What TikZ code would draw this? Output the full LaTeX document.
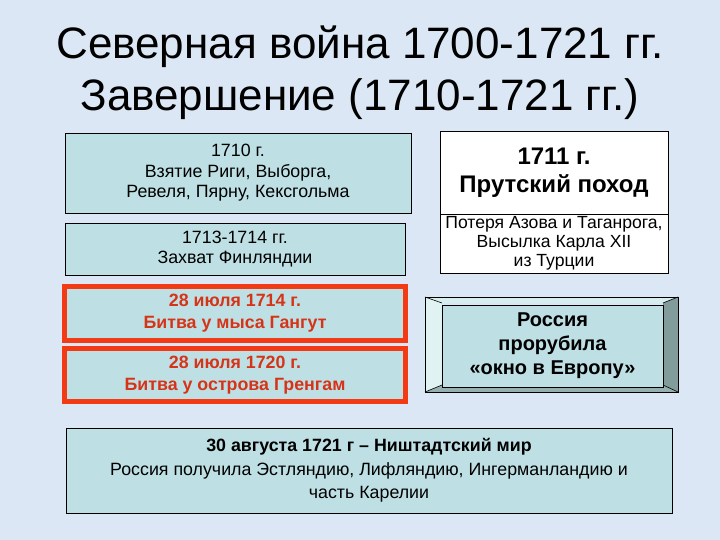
\documentclass[tikz,border=0pt]{standalone}
\usepackage{fontspec}
\setmainfont{Liberation Sans}
\usetikzlibrary{positioning}
\definecolor{slidebg}{RGB}{219,231,244}
\definecolor{boxfill}{RGB}{190,224,228}
\definecolor{battlered}{RGB}{242,58,20}
\definecolor{battletext}{RGB}{214,52,24}
\definecolor{bevellight}{RGB}{214,238,238}
\definecolor{bevelside}{RGB}{224,242,242}
\definecolor{beveldark}{RGB}{150,175,175}
\definecolor{beveldarker}{RGB}{130,155,155}

\begin{document}
\begin{tikzpicture}[x=1pt,y=-1pt,
    event box/.style={draw, fill=boxfill, line width=0.8pt, inner sep=0pt, align=center,
      font=\fontsize{17.8}{20.5}\selectfont},
    battle box/.style={draw=battlered, fill=boxfill, line width=5pt, inner sep=0pt, align=center,
      text=battletext, font=\bfseries\fontsize{17.8}{22}\selectfont},
    prut box/.style={draw, fill=white, line width=0.8pt, inner sep=0pt, align=center},
    title line/.style={anchor=base, font=\fontsize{44}{48}\selectfont}]
    % background of the slide
    \fill[slidebg] (0,0) rectangle (720,540);
    \useasboundingbox (0,0) rectangle (720,540);

    % title
    \node[title line] (title1) at (360,59) {Северная война 1700-1721 гг.};
    \node[title line] (title2) at (360,111) {Завершение (1710-1721 гг.)};

    % left column
    \node[event box, minimum width=346, minimum height=80] (riga) at (238,173)
        {1710 г.\\Взятие Риги, Выборга,\\Ревеля, Пярну, Кексгольма};
    \node[event box, minimum width=340, minimum height=52] (finland) at (235,249)
        {1713-1714 гг.\\Захват Финляндии};
    \node[battle box, minimum width=341, minimum height=54] (gangut) at (235,313.5)
        {28 июля 1714 г.\\Битва у мыса Гангут};
    \node[battle box, minimum width=341, minimum height=53] (grengam) at (235,375)
        {28 июля 1720 г.\\Битва у острова Гренгам};

    % right column
    \node[prut box, minimum width=228, minimum height=83,
          font=\bfseries\fontsize{24}{28}\selectfont] (prut) at (554,172.5)
        {1711 г.\\Прутский поход};
    \node[prut box, minimum width=228, minimum height=59,
          font=\fontsize{17.6}{19}\selectfont] (prutloss) at (554,243.5)
        {Потеря Азова и Таганрога,\\Высылка Карла XII\\из Турции};

    % bevelled frame
    \fill[bevellight] (425,297) -- (678,297) -- (663,303) -- (442,303) -- cycle;
    \fill[bevelside] (425,297) -- (442,303) -- (442,385) -- (425,392) -- cycle;
    \fill[beveldark] (425,392) -- (442,385) -- (663,385) -- (678,392) -- cycle;
    \fill[beveldarker] (678,297) -- (678,392) -- (663,385) -- (663,303) -- cycle;
    \draw[line width=0.8pt] (425,297) rectangle (678,392);
    \draw[line width=0.6pt] (425,297) -- (442,303) (678,297) -- (663,303)
        (425,392) -- (442,385) (678,392) -- (663,385);
    \node[event box, minimum width=221, minimum height=82,
          font=\bfseries\fontsize{20}{24}\selectfont] (window) at (552.5,346)
        {Россия\\прорубила\\«окно в Европу»};

    % bottom
    \node[event box, minimum width=606, minimum height=85,
          font=\fontsize{17.8}{23.5}\selectfont] (nystad) at (369,470.5)
        {\textbf{30 августа 1721 г – Ништадтский мир}\\Россия получила Эстляндию, Лифляндию, Ингерманландию и\\часть Карелии};
\end{tikzpicture}
\end{document}
